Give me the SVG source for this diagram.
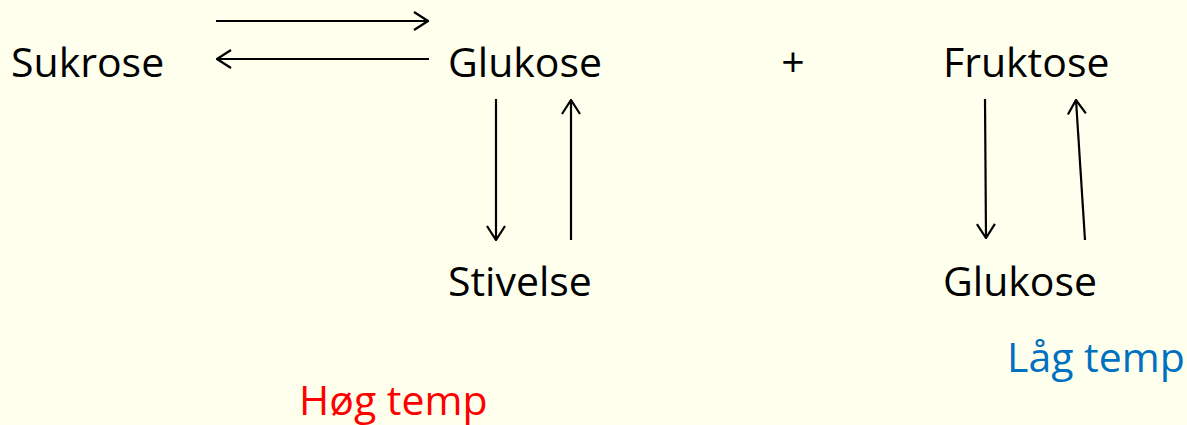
<svg xmlns="http://www.w3.org/2000/svg" width="1187" height="425" viewBox="0 0 1187 425">
  <style>
    .lbl { font-family: "Open Sans", "Noto Sans", sans-serif; font-size: 41px; fill: #000; }
    .hot { fill: #FF0000; }
    .cold { fill: #0070C0; }
    .conn line { stroke: #000; stroke-width: 2.2; fill: none; }
  </style>
  <defs>
    <marker id="head" viewBox="0 0 16 20" refX="15" refY="10" markerWidth="16" markerHeight="20" markerUnits="userSpaceOnUse" orient="auto">
      <polyline points="1,1 15,10 1,19" fill="none" stroke="#000" stroke-width="2.2"/>
    </marker>
  </defs>
  <rect width="1187" height="425" fill="#FFFFEE"/>

  <g id="sukrose"><text class="lbl" x="11" y="77">Sukrose</text></g>
  <g id="glukose-top"><text class="lbl" x="448" y="77">Glukose</text></g>
  <g id="plus"><text class="lbl" x="793" y="77" text-anchor="middle">+</text></g>
  <g id="fruktose"><text class="lbl" x="943" y="77">Fruktose</text></g>
  <g id="stivelse"><text class="lbl" x="448" y="296">Stivelse</text></g>
  <g id="glukose-bottom"><text class="lbl" x="943" y="296">Glukose</text></g>
  <g id="laag-temp"><text class="lbl cold" x="1007" y="372">Låg temp</text></g>
  <g id="hoeg-temp"><text class="lbl hot" x="299" y="415">Høg temp</text></g>

  <g id="connectors" class="conn">
    <line x1="216" y1="21" x2="428" y2="21" marker-end="url(#head)"/>
    <line x1="429" y1="59" x2="217" y2="59" marker-end="url(#head)"/>
    <line x1="496" y1="99" x2="496" y2="240" marker-end="url(#head)"/>
    <line x1="571" y1="240" x2="571" y2="100" marker-end="url(#head)"/>
    <line x1="985" y1="99" x2="986" y2="238" marker-end="url(#head)"/>
    <line x1="1085" y1="240" x2="1076" y2="100" marker-end="url(#head)"/>
  </g>
</svg>
